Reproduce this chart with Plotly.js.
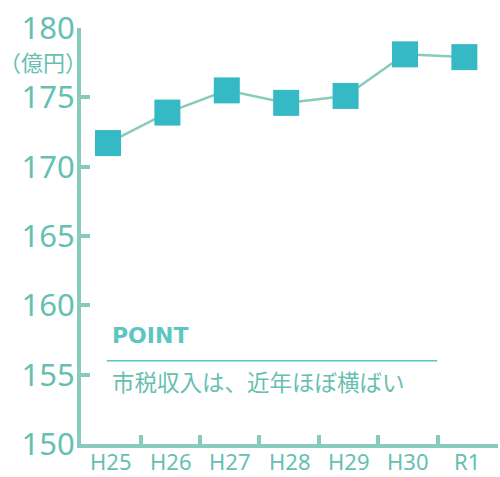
<!DOCTYPE html>
<html>
<head>
<meta charset="utf-8">
<script src="https://cdn.plot.ly/plotly-3.0.1.min.js"></script>
<style>html,body{margin:0;padding:0;background:#fff;}#chart{width:500px;height:477px;}</style>
</head>
<body>
<div id="chart"></div>
<script>
const categories = ["H25", "H26", "H27", "H28", "H29", "H30", "R1"];
const revenue = [171.7, 173.9, 175.5, 174.6, 175.1, 178.1, 177.9];
const yTicks = [150, 155, 160, 165, 170, 175, 180];
const unitLabel = "（億円）";
const pointTitle = "POINT";
const pointText = "市税収入は、近年ほぼ横ばい";

const idx = categories.map((c, i) => i);
const axisColor = "#88cbbd";
const textColor = "#66bfb0";
const font = "'Noto Sans', 'Noto Sans CJK JP', sans-serif";

const trace = {
  x: idx, y: revenue, type: "scatter", mode: "lines+markers",
  line: {color: axisColor, width: 2.5},
  marker: {symbol: "square", size: 26, color: "#35b9c4"},
  cliponaxis: false, hoverinfo: "skip"
};

const annotations = categories.map((c, i) => ({
  x: i + 0.05, y: -0.042, xref: "x", yref: "paper", text: c, showarrow: false,
  xanchor: "center", yanchor: "middle",
  font: {family: font, size: 22, color: textColor}
}));
annotations.push({
  x: 0.019, y: 0.92, xref: "paper", yref: "paper", text: unitLabel, showarrow: false,
  xanchor: "right", yanchor: "middle", font: {family: "'Noto Sans CJK JP', sans-serif", size: 22, color: textColor}
});
annotations.push({
  x: 0.07, y: 0.26, xref: "paper", yref: "paper", text: "<b>" + pointTitle + "</b>", showarrow: false,
  xanchor: "left", yanchor: "middle", font: {family: "'DejaVu Sans', sans-serif", size: 22, color: "#5ec6c2"}
});
annotations.push({
  x: 0.07, y: 0.151, xref: "paper", yref: "paper", text: pointText, showarrow: false,
  xanchor: "left", yanchor: "middle", font: {family: "'Noto Sans CJK JP', sans-serif", size: 22.5, color: textColor}
});

const layout = {
  width: 500, height: 477,
  margin: {l: 81, r: 2, t: 28, b: 33},
  paper_bgcolor: "#fff", plot_bgcolor: "#fff",
  showlegend: false,
  xaxis: {
    range: [-0.4545, 6.566], tickvals: idx.map(i => i + 0.55), ticktext: idx.map(() => ""),
    ticks: "inside", ticklen: 9, tickwidth: 4, tickcolor: axisColor,
    showline: true, linecolor: axisColor, linewidth: 4,
    showgrid: false, zeroline: false, fixedrange: true
  },
  yaxis: {
    range: [150, 180], tickvals: yTicks, ticktext: yTicks.map(String),
    ticks: "inside", ticklen: 9, tickwidth: 4, tickcolor: axisColor,
    showline: true, linecolor: axisColor, linewidth: 4,
    showgrid: false, zeroline: false, fixedrange: true,
    tickfont: {family: font, size: 31, color: textColor}, ticklabelstandoff: -4
  },
  shapes: [{
    type: "line", xref: "paper", yref: "paper", x0: 0.062, x1: 0.854, y0: 0.2, y1: 0.2,
    line: {color: "#5ec6c2", width: 1.5}
  }],
  annotations: annotations
};

Plotly.newPlot("chart", [trace], layout, {displayModeBar: false, staticPlot: true});
</script>
</body>
</html>
